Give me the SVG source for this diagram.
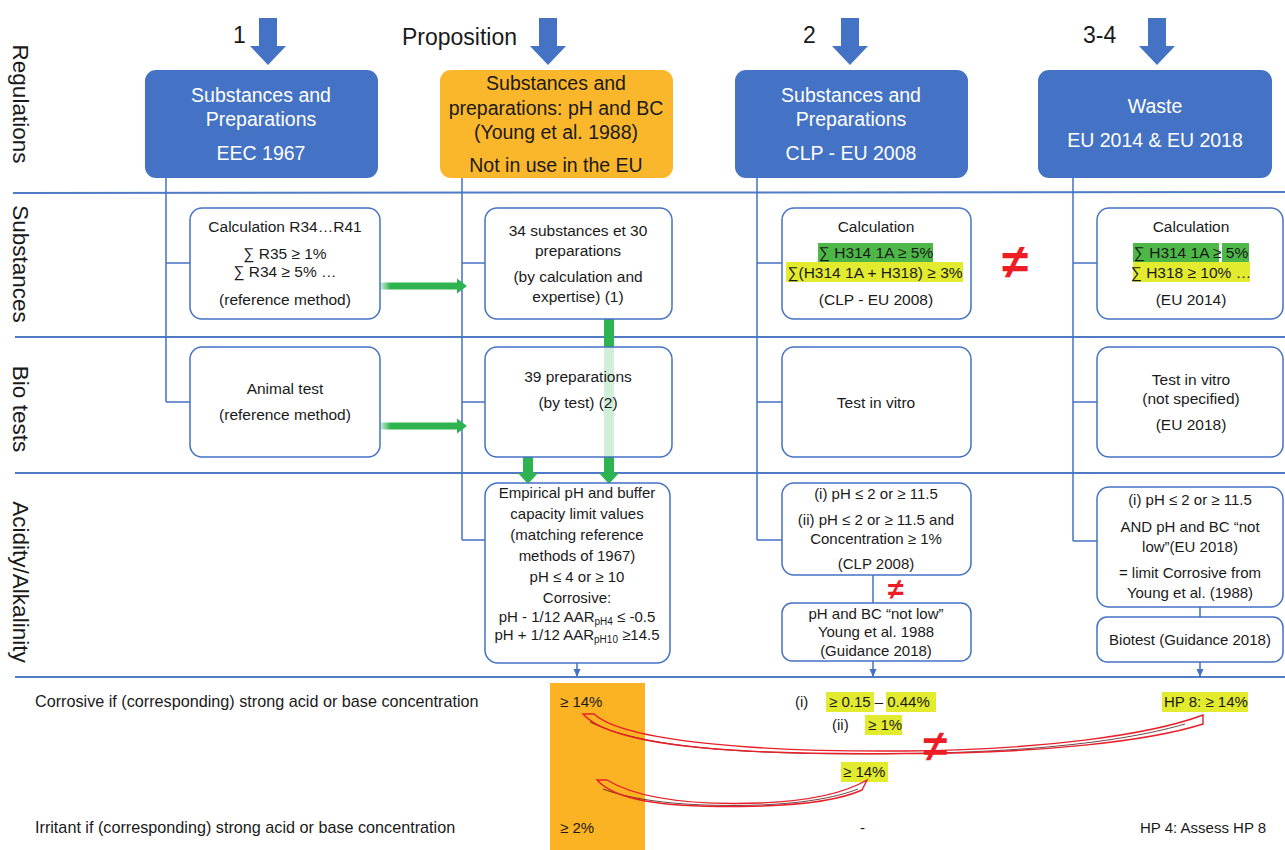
<svg xmlns="http://www.w3.org/2000/svg" width="1285" height="850" viewBox="0 0 1285 850">
<defs>
<style>
text { font-family: "Liberation Sans", Arial, sans-serif; fill: #1a1a1a; }
.side { font-size: 22.5px; text-anchor: middle; }
.top { font-size: 23px; }
.hdr { font-size: 19.5px; text-anchor: middle; }
.w { fill: #ffffff; }
.bx { fill: #ffffff; stroke: #4472C4; stroke-width: 1.5; }
.t { font-size: 15.5px; text-anchor: middle; }
.s { font-size: 15px; text-anchor: middle; }
.b { font-size: 15px; }
.lbl { font-size: 16.2px; }
.sep { stroke: #4F7CC4; stroke-width: 2; fill: none; }
.conn { stroke: #4472C4; stroke-width: 1.5; fill: none; }
.blue { fill: #4472C4; }
.neq { fill: #EE1C25; font-weight: bold; text-anchor: middle; }
.hy { fill: #E2EB2E; }
.hg { fill: #4DB748; }
.grn { fill: #2DB34F; }
.red { fill: none; stroke: #E8202A; stroke-width: 1.4; }
.shd { fill: none; stroke: #3a0a0a; stroke-width: 1; opacity: 0.75; }
</style>
<linearGradient id="gh" x1="0" y1="0" x2="1" y2="0">
<stop offset="0" stop-color="#2DB34F" stop-opacity="0.2"/>
<stop offset="0.12" stop-color="#2DB34F" stop-opacity="1"/>
<stop offset="1" stop-color="#2DB34F" stop-opacity="1"/>
</linearGradient>
<marker id="tip" markerWidth="8" markerHeight="8" refX="8" refY="4" orient="auto" markerUnits="userSpaceOnUse">
<path d="M0,0.5 L8,4 L0,7.5 Z" fill="#4472C4"/>
</marker>
</defs>

<rect x="0" y="0" width="1285" height="850" fill="#ffffff"/>

<!-- row separators -->
<g id="separators">
<line class="sep" x1="13" y1="193" x2="1285" y2="192"/>
<line class="sep" x1="15" y1="337" x2="1285" y2="337"/>
<line class="sep" x1="15" y1="473" x2="1285" y2="473"/>
<line class="sep" x1="15" y1="677" x2="1285" y2="677"/>
</g>

<!-- side labels -->
<g id="row-labels">
<text class="side" transform="translate(13,104) rotate(90)">Regulations</text>
<text class="side" transform="translate(13,264) rotate(90)">Substances</text>
<text class="side" transform="translate(13,409) rotate(90)">Bio tests</text>
<text class="side" transform="translate(13,582) rotate(90)">Acidity/Alkalinity</text>
</g>

<!-- top arrows with labels -->
<g id="top-arrow-1">
<text class="top" x="233" y="43">1</text>
<path class="blue" d="M259,18 L277,18 L277,46 L286,46 L268,65 L250,46 L259,46 Z"/>
</g>
<g id="top-arrow-proposition">
<text class="top" x="402" y="45">Proposition</text>
<path class="blue" d="M539,18 L557,18 L557,46 L566,46 L548,65 L530,46 L539,46 Z"/>
</g>
<g id="top-arrow-2">
<text class="top" x="803" y="43">2</text>
<path class="blue" d="M841,18 L859,18 L859,46 L868,46 L850,65 L832,46 L841,46 Z"/>
</g>
<g id="top-arrow-34">
<text class="top" x="1083" y="43">3-4</text>
<path class="blue" d="M1148,18 L1166,18 L1166,46 L1175,46 L1157,65 L1139,46 L1148,46 Z"/>
</g>

<!-- connectors -->
<g id="connectors">
<!-- column 1 -->
<path class="conn" d="M166,178 V402 M166,263 H190 M166,402 H190"/>
<!-- column 2 -->
<path class="conn" d="M462,178 V540 M462,263 H485 M462,402 H485 M462,540 H485"/>
<!-- column 3 -->
<path class="conn" d="M757,178 V540 M757,263 H782 M757,402 H782 M757,540 H782"/>
<path class="conn" d="M873,575 V603"/>
<!-- column 4 -->
<path class="conn" d="M1073,178 V541 M1073,263 H1097 M1073,402 H1097 M1073,541 H1097"/>
<path class="conn" d="M1200,607 V617"/>
<!-- down to results -->
<line class="conn" x1="577" y1="663" x2="577" y2="677" marker-end="url(#tip)"/>
<line class="conn" x1="873" y1="661" x2="873" y2="677" marker-end="url(#tip)"/>
<line class="conn" x1="1200" y1="662" x2="1200" y2="677" marker-end="url(#tip)"/>
<!-- green arrows -->
<path fill="url(#gh)" d="M380,282.5 L457,282.5 L457,278.5 L467,286 L457,293.5 L457,289.5 L380,289.5 Z"/>
<path fill="url(#gh)" d="M380,422.5 L457,422.5 L457,418.5 L467,426 L457,433.5 L457,429.5 L380,429.5 Z"/>
<rect class="grn" x="604" y="319" width="10" height="28"/>
<rect class="grn" x="604" y="347" width="10" height="110" opacity="0.22"/>
<path class="grn" d="M604,457 L614,457 L614,473 L619,473 L609,484 L599,473 L604,473 Z"/>
<path class="grn" d="M523,457 L533,457 L533,473 L538,473 L528,484 L518,473 L523,473 Z"/>
</g>

<!-- Regulations row -->
<g id="reg-eec1967">
<rect class="blue" x="145" y="70" width="233" height="108" rx="11"/>
<text class="hdr w" x="261" y="102">Substances and</text>
<text class="hdr w" x="261" y="126">Preparations</text>
<text class="hdr w" x="261" y="160">EEC 1967</text>
</g>
<g id="reg-proposition">
<rect x="440" y="70" width="233" height="108" rx="11" fill="#FBB72B"/>
<text class="hdr" x="556" y="90">Substances and</text>
<text class="hdr" x="556" y="115">preparations: pH and BC</text>
<text class="hdr" x="556" y="139">(Young et al. 1988)</text>
<text class="hdr" x="556" y="172">Not in use in the EU</text>
</g>
<g id="reg-clp2008">
<rect class="blue" x="735" y="70" width="233" height="108" rx="11"/>
<text class="hdr w" x="851" y="102">Substances and</text>
<text class="hdr w" x="851" y="126">Preparations</text>
<text class="hdr w" x="851" y="160">CLP - EU 2008</text>
</g>
<g id="reg-waste">
<rect class="blue" x="1038" y="70" width="234" height="108" rx="11"/>
<text class="hdr w" x="1155" y="113">Waste</text>
<text class="hdr w" x="1155" y="147">EU 2014 &amp; EU 2018</text>
</g>

<!-- Substances row -->
<g id="sub-calc-r34">
<rect class="bx" x="190" y="208" width="190" height="111" rx="12"/>
<text class="t" x="285" y="231.5">Calculation R34…R41</text>
<text class="t" x="285" y="258.5">∑ R35 ≥ 1%</text>
<text class="t" x="285" y="277">∑ R34 ≥ 5% …</text>
<text class="t" x="285" y="304.5">(reference method)</text>
</g>
<g id="sub-34-substances">
<rect class="bx" x="485" y="208" width="187" height="111" rx="12"/>
<text class="t" x="578" y="235.5">34 substances et 30</text>
<text class="t" x="578" y="255.5">preparations</text>
<text class="t" x="578" y="281.5">(by calculation and</text>
<text class="t" x="578" y="301.5">expertise) (1)</text>
</g>
<g id="sub-calc-clp">
<rect class="bx" x="782" y="208" width="189" height="111" rx="12"/>
<rect class="hg" x="818" y="243" width="115" height="19"/>
<rect class="hy" x="786" y="262" width="177" height="20"/>
<text class="t" x="876" y="231.5">Calculation</text>
<text class="t" x="876" y="258">∑ H314 1A ≥ 5%</text>
<text class="t" x="875" y="277.5">∑(H314 1A + H318) ≥ 3%</text>
<text class="t" x="876" y="304.5">(CLP - EU 2008)</text>
</g>
<g id="neq-calc">
<text class="neq" x="1015" y="278" font-size="48">≠</text>
</g>
<g id="sub-calc-waste">
<rect class="bx" x="1097" y="208" width="186" height="111" rx="12"/>
<rect class="hg" x="1133" y="243" width="86" height="19"/>
<rect class="hg" x="1222" y="243" width="27" height="19"/>
<rect class="hy" x="1133" y="262" width="117" height="20"/>
<text class="t" x="1191" y="231.5">Calculation</text>
<text class="t" x="1191" y="258">∑ H314 1A ≥ 5%</text>
<text class="t" x="1191" y="277.5">∑ H318 ≥ 10% …</text>
<text class="t" x="1191" y="304.5">(EU 2014)</text>
</g>

<!-- Bio tests row -->
<g id="bio-animal">
<rect class="bx" x="190" y="347" width="190" height="110" rx="12"/>
<text class="t" x="285" y="393.5">Animal test</text>
<text class="t" x="285" y="419.5">(reference method)</text>
</g>
<g id="bio-39-preparations">
<rect class="bx" x="485" y="347" width="187" height="110" rx="12" fill-opacity="0"/>
<text class="t" x="578" y="382">39 preparations</text>
<text class="t" x="578" y="407.5">(by test) (2)</text>
</g>
<g id="bio-invitro-clp">
<rect class="bx" x="782" y="347" width="189" height="110" rx="12"/>
<text class="t" x="876" y="407.5">Test in vitro</text>
</g>
<g id="bio-invitro-waste">
<rect class="bx" x="1097" y="347" width="186" height="110" rx="12"/>
<text class="t" x="1191" y="384.5">Test in vitro</text>
<text class="t" x="1191" y="404">(not specified)</text>
<text class="t" x="1191" y="429.5">(EU 2018)</text>
</g>

<!-- Acidity / Alkalinity row -->
<g id="acid-empirical">
<rect class="bx" x="485" y="483" width="185" height="180" rx="13"/>
<text class="s" x="577" y="498">Empirical pH and buffer</text>
<text class="s" x="577" y="518.5">capacity limit values</text>
<text class="s" x="577" y="540">(matching reference</text>
<text class="s" x="577" y="561">methods of 1967)</text>
<text class="s" x="577" y="582">pH ≤ 4 or ≥ 10</text>
<text class="s" x="577" y="603">Corrosive:</text>
<text class="s" x="577" y="622">pH - 1/12 AAR<tspan font-size="10" dy="3">pH4</tspan><tspan dy="-3"> ≤ -0.5</tspan></text>
<text class="s" x="577" y="640">pH + 1/12 AAR<tspan font-size="10" dy="3">pH10</tspan><tspan dy="-3"> ≥14.5</tspan></text>
</g>
<g id="acid-clp">
<rect class="bx" x="782" y="483" width="189" height="92" rx="12"/>
<text class="s" x="876" y="499">(i) pH ≤ 2 or ≥ 11.5</text>
<text class="s" x="876" y="525">(ii) pH ≤ 2 or ≥ 11.5 and</text>
<text class="s" x="876" y="544">Concentration ≥ 1%</text>
<text class="s" x="876" y="569">(CLP 2008)</text>
</g>
<g id="neq-acid">
<text class="neq" x="896" y="598.5" font-size="29">≠</text>
</g>
<g id="acid-young">
<rect class="bx" x="782" y="603" width="189" height="58" rx="10"/>
<text class="s" x="876" y="618.5">pH and BC “not low”</text>
<text class="s" x="876" y="637">Young et al. 1988</text>
<text class="s" x="876" y="655.5">(Guidance 2018)</text>
</g>
<g id="acid-waste">
<rect class="bx" x="1097" y="487" width="186" height="120" rx="12"/>
<text class="s" x="1190" y="504.5">(i) pH ≤ 2 or ≥ 11.5</text>
<text class="s" x="1190" y="531.5">AND pH and BC “not</text>
<text class="s" x="1190" y="551.5">low”(EU 2018)</text>
<text class="s" x="1190" y="577.5">= limit Corrosive from</text>
<text class="s" x="1190" y="597.5">Young et al. (1988)</text>
</g>
<g id="acid-biotest">
<rect class="bx" x="1097" y="617" width="186" height="45" rx="10"/>
<text class="s" x="1190" y="644.5">Biotest (Guidance 2018)</text>
</g>

<!-- results area -->
<g id="results">
<rect x="550" y="683" width="95" height="167" fill="#FBB323"/>
<text class="lbl" x="35" y="707">Corrosive if (corresponding) strong acid or base concentration</text>
<text class="lbl" x="35" y="833">Irritant if (corresponding) strong acid or base concentration</text>
<text class="b" x="560" y="707">≥ 14%</text>
<text class="b" x="560" y="833">≥ 2%</text>
<text class="b" x="795" y="707">(i)</text>
<rect class="hy" x="826" y="692" width="48" height="20"/>
<rect class="hy" x="886" y="692" width="50" height="20"/>
<text class="b" x="829" y="707">≥ 0.15 – 0.44%</text>
<text class="b" x="832" y="730">(ii)</text>
<rect class="hy" x="865" y="715" width="37" height="20"/>
<text class="b" x="868" y="730">≥ 1%</text>
<rect class="hy" x="841" y="762" width="47" height="20"/>
<text class="b" x="843" y="777">≥ 14%</text>
<text class="b" x="860" y="833">-</text>
<rect class="hy" x="1162" y="692" width="86" height="20"/>
<text class="b" x="1164" y="707">HP 8: ≥ 14%</text>
<text class="b" x="1140" y="833">HP 4: Assess HP 8</text>
</g>

<!-- red curved comparison arrows -->
<g id="compare-arrows">
<path class="shd" d="M590,722 C650,752 780,755 905,753.5 C1040,752 1130,740 1185,724"/>
<path class="red" d="M583,714 L594,714 C625,742 760,752 905,751 C1040,750 1150,735 1203,715 L1203,724 C1150,741 1040,753.5 905,753.5 C760,755 615,750 583,714 Z"/>
<path class="shd" d="M603,789 C640,803 700,807 760,805 C810,803 840,796 858,789"/>
<path class="red" d="M597,780 L607,780 C640,800 700,805 760,803 C810,801 845,793 867,780 L862,790 C840,800 800,806 740,806.5 C660,807 615,800 597,780 Z"/>
<text class="neq" x="935" y="761" font-size="44">≠</text>
</g>
</svg>
